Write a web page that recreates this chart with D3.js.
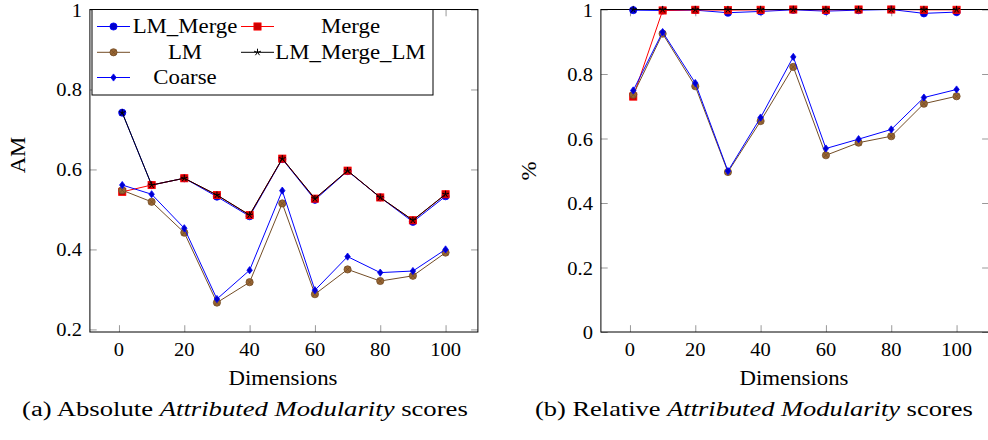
<!DOCTYPE html>
<html>
<head>
<meta charset="utf-8">
<script src="https://cdn.jsdelivr.net/npm/d3@7"></script>
<style>
  html, body { margin: 0; padding: 0; background: #fff; }
  svg { display: block; }
</style>
</head>
<body>
<svg id="chart" width="988" height="440"></svg>
<script>
// ---- data -------------------------------------------------------------
const dims = [1, 10, 20, 30, 40, 50, 60, 70, 80, 90, 100];

// absolute Attributed Modularity scores
const absLMMerge   = [0.742, 0.561, 0.578, 0.532, 0.483, 0.626, 0.524, 0.596, 0.530, 0.469, 0.533];
const absMerge     = [0.544, 0.561, 0.578, 0.536, 0.486, 0.627, 0.527, 0.597, 0.530, 0.473, 0.538];
const absLM        = [0.548, 0.519, 0.442, 0.267, 0.318, 0.515, 0.288, 0.350, 0.321, 0.334, 0.392];
const absLMMergeLM = [0.742, 0.561, 0.578, 0.536, 0.486, 0.627, 0.527, 0.597, 0.530, 0.473, 0.538];
const absCoarse    = [0.561, 0.538, 0.453, 0.276, 0.348, 0.547, 0.298, 0.382, 0.342, 0.346, 0.400];

// relative Attributed Modularity scores
const relLMMerge   = [0.998, 0.997, 0.998, 0.990, 0.994, 0.999, 0.995, 0.998, 1.000, 0.988, 0.992];
const relMerge     = [0.730, 0.997, 0.999, 0.998, 0.999, 1.000, 0.999, 1.000, 1.000, 0.999, 0.999];
const relLM        = [0.736, 0.925, 0.762, 0.496, 0.654, 0.822, 0.548, 0.587, 0.607, 0.708, 0.731];
const relLMMergeLM = [1.000, 1.000, 1.000, 1.000, 1.000, 1.000, 1.000, 1.000, 1.000, 1.000, 1.000];
const relCoarse    = [0.749, 0.930, 0.772, 0.499, 0.665, 0.853, 0.569, 0.598, 0.628, 0.727, 0.752];

const seriesNames = ["LM_Merge", "Merge", "LM", "LM_Merge_LM", "Coarse"];
const xTicks = [0, 20, 40, 60, 80, 100];
const yTicksAbs = [0.2, 0.4, 0.6, 0.8, 1];
const yTicksRel = [0, 0.2, 0.4, 0.6, 0.8, 1];

// ---- styles -----------------------------------------------------------
const styles = [
  { line: "#0000ff", fill: "#0000cc", mark: "circle" },
  { line: "#ff0000", fill: "#cc0000", mark: "square" },
  { line: "#734d26", fill: "#996633", mark: "otimes" },
  { line: "#000000", fill: "none",    mark: "star" },
  { line: "#0000ff", fill: "#0000cc", mark: "diamond" }
];
const FONT = "Liberation Serif";
const R = 3.6;          // marker size
const FS = 20;          // label font size
const FS_TICK = 18;     // tick label font size
const TICK = 6.8;       // inner tick length

const svg = d3.select("#chart");

// horizontal stretch so the serif face spans like the typeset labels
const probe = svg.append("text").attr("font-family", FONT).attr("font-size", FS).text("Dimensions");
const SX = 109 / probe.node().getComputedTextLength();
probe.remove();

// text helper; `width` (optional) fits the string to a given span
function label(parent, x, y, parts, anchor = "middle", rotate = 0, width = null, fs = FS) {
  const g = parent.append("g");
  const t = g.append("text").attr("font-family", FONT).attr("font-size", fs)
    .attr("fill", "#000").attr("text-anchor", anchor);
  (Array.isArray(parts) ? parts : [[parts, false]]).forEach(([s, it]) => {
    t.append("tspan").attr("font-style", it ? "italic" : "normal").text(s);
  });
  const sx = width ? width / t.node().getComputedTextLength() : SX;
  g.attr("transform", `translate(${x},${y}) rotate(${rotate}) scale(${sx},1)`);
  return t;
}

function drawMarker(g, type, st) {
  const sw = 0.8;
  if (type === "circle") {
    g.append("circle").attr("r", R).attr("fill", st.fill).attr("stroke", st.line).attr("stroke-width", sw);
  } else if (type === "square") {
    g.append("rect").attr("x", -R).attr("y", -R).attr("width", 2 * R).attr("height", 2 * R)
      .attr("fill", st.fill).attr("stroke", st.line).attr("stroke-width", sw);
  } else if (type === "otimes") {
    g.append("circle").attr("r", R).attr("fill", st.fill).attr("stroke", st.line).attr("stroke-width", sw);
    const d = R * Math.SQRT1_2;
    g.append("path").attr("d", `M${-d},${-d}L${d},${d}M${-d},${d}L${d},${-d}`)
      .attr("stroke", st.line).attr("stroke-width", sw);
  } else if (type === "star") {
    let p = "";
    for (let k = 0; k < 5; k++) {
      const a = -Math.PI / 2 + k * 2 * Math.PI / 5;
      p += `M0,0L${R * Math.cos(a)},${R * Math.sin(a)}`;
    }
    g.append("path").attr("d", p).attr("stroke", st.line).attr("stroke-width", 1).attr("fill", "none");
  } else if (type === "diamond") {
    g.append("path").attr("d", `M0,${-R}L${0.75 * R},0L0,${R}L${-0.75 * R},0Z`)
      .attr("fill", st.fill).attr("stroke", st.line).attr("stroke-width", sw);
  }
}

function panel(opts) {
  const { x, y, series, yTicks, yFmt, ylabel, ylabelPos, caption, capX, capW, yTickLabelX, dimX } = opts;
  const g = svg.append("g");
  const [x0, x1] = x.range();
  const [y0, y1] = y.range();

  // ticks (inside, mirrored on all sides)
  const tickStyle = sel => {
    sel.select(".domain").remove();
    sel.selectAll(".tick line").attr("stroke", "#999").attr("stroke-width", 1);
    sel.selectAll(".tick text").remove();
  };
  g.append("g").attr("transform", `translate(0,${y0})`)
    .call(d3.axisBottom(x).tickValues(xTicks).tickSizeInner(-TICK).tickSizeOuter(0)).call(tickStyle);
  g.append("g").attr("transform", `translate(0,${y1})`)
    .call(d3.axisTop(x).tickValues(xTicks).tickSizeInner(-TICK).tickSizeOuter(0)).call(tickStyle);
  g.append("g").attr("transform", `translate(${x0},0)`)
    .call(d3.axisLeft(y).tickValues(yTicks).tickSizeInner(-TICK).tickSizeOuter(0)).call(tickStyle);
  g.append("g").attr("transform", `translate(${x1},0)`)
    .call(d3.axisRight(y).tickValues(yTicks).tickSizeInner(-TICK).tickSizeOuter(0)).call(tickStyle);

  // frame
  g.append("rect").attr("x", x0).attr("y", y1).attr("width", x1 - x0).attr("height", y0 - y1)
    .attr("fill", "none").attr("stroke", "#000").attr("stroke-width", 1);

  // tick labels
  xTicks.forEach(v => label(g, x(v), 356, String(v), "middle", 0, null, FS_TICK));
  yTicks.forEach(v => label(g, yTickLabelX, y(v) + 7, yFmt(v), "end", 0, null, FS_TICK));

  // series
  const line = d3.line().x((d, i) => x(dims[i])).y(d => y(d));
  series.forEach((vals, si) => {
    const st = styles[si];
    g.append("path").attr("d", line(vals)).attr("fill", "none")
      .attr("stroke", st.line).attr("stroke-width", 1);
    vals.forEach((v, i) => {
      const m = g.append("g").attr("transform", `translate(${x(dims[i])},${y(v)})`);
      drawMarker(m, st.mark, st);
    });
  });

  // axis labels and caption
  label(g, ylabelPos[0], ylabelPos[1], ylabel, "middle", -90);
  label(g, dimX, 385, "Dimensions");
  label(g, capX, 416, caption, "start", 0, capW);
  return g;
}

const xDomain = [-8.9, 109.9];

panel({
  x: d3.scaleLinear().domain(xDomain).range([89.9, 477.9]),
  y: d3.scaleLinear().domain([0.1935, 1]).range([332, 9.5]),
  series: [absLMMerge, absMerge, absLM, absLMMergeLM, absCoarse],
  yTicks: yTicksAbs,
  yFmt: v => d3.format("")(v),
  ylabel: "AM",
  ylabelPos: [25, 155],
  caption: [["(a) Absolute ", false], ["Attributed Modularity", true], [" scores", false]],
  capX: 22,
  capW: 446,
  yTickLabelX: 82,
  dimX: 283
});

panel({
  x: d3.scaleLinear().domain(xDomain).range([600.9, 988.9]),
  y: d3.scaleLinear().domain([0, 1]).range([332, 9.5]),
  series: [relLMMerge, relMerge, relLM, relLMMergeLM, relCoarse],
  yTicks: yTicksRel,
  yFmt: v => d3.format("")(v),
  ylabel: "%",
  ylabelPos: [536, 171],
  caption: [["(b) Relative ", false], ["Attributed Modularity", true], [" scores", false]],
  capX: 535,
  capW: 438,
  yTickLabelX: 593,
  dimX: 794
});

// ---- legend -----------------------------------------------------------
const lg = svg.append("g");
lg.append("rect").attr("x", 92).attr("y", 9.5).attr("width", 341).attr("height", 85.5)
  .attr("fill", "#fff").attr("stroke", "#000").attr("stroke-width", 1);
const cols = [{ l0: 97, l1: 130, tx: 185 }, { l0: 241, l1: 274, tx: 350.5 }];
const rows = [26.5, 52.3, 77.5];
seriesNames.forEach((name, i) => {
  const c = cols[i % 2], ry = rows[Math.floor(i / 2)], st = styles[i];
  lg.append("line").attr("x1", c.l0).attr("x2", c.l1).attr("y1", ry).attr("y2", ry)
    .attr("stroke", st.line).attr("stroke-width", 1);
  drawMarker(lg.append("g").attr("transform", `translate(${(c.l0 + c.l1) / 2},${ry})`), st.mark, st);
  label(lg, c.tx, ry + 6.5, name);
});
</script>
</body>
</html>
